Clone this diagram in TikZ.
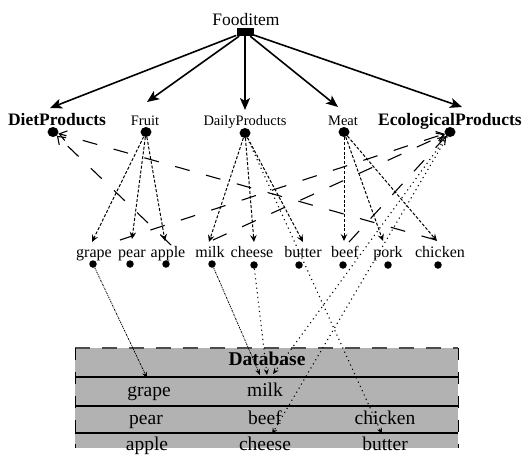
\documentclass[tikz,border=0pt]{standalone}
\usepackage{fontspec}
\setmainfont{Liberation Serif}
\usetikzlibrary{arrows.meta,shapes.geometric}
\begin{document}
\begin{tikzpicture}[x=1pt,y=-1pt,
  toplbl/.style={anchor=base,inner sep=0pt,font=\fontsize{17.5}{19}\selectfont},
  catlbl/.style={anchor=base,inner sep=0pt,font=\fontsize{14.5}{16}\selectfont},
  boldlbl/.style={anchor=base,inner sep=0pt,font=\fontsize{17.5}{19}\selectfont\bfseries},
  leaflbl/.style={anchor=base,inner sep=0pt,font=\fontsize{16}{18}\selectfont},
  dblbl/.style={anchor=base,inner sep=0pt,font=\fontsize{19.5}{21}\selectfont},
  catdot/.style={ellipse,fill=black,minimum width=11pt,minimum height=10pt,inner sep=0pt},
  leafdot/.style={circle,fill=black,minimum size=7.5pt,inner sep=0pt},
  topar/.style={line width=1.6pt,-{Stealth[length=12pt,width=10pt,inset=3pt]}},
  sdash/.style={line width=1pt,dash pattern=on 3pt off 1.8pt,-{Stealth[length=7pt,width=6.5pt,inset=2.5pt]}},
  ldash/.style={line width=1.1pt,dash pattern=on 15pt off 17pt,-{Straight Barb[length=7pt,width=10pt]}},
  dotl/.style={line width=1.1pt,dash pattern=on 1.1pt off 3.6pt,-{Stealth[length=6pt,width=5pt,inset=2pt]}},
  ddotl/.style={line width=0.8pt,dash pattern=on 1.8pt off 1pt on 0.8pt off 1pt,-{Stealth[length=6pt,width=5pt,inset=2pt]}}
]
\useasboundingbox (0,0) rectangle (529,459);

% Database table
\fill[black!30] (75,348) rectangle (458,448);
\draw[line width=1.4pt,black!70,dash pattern=on 15pt off 12pt] (75,348) -- (458,348);
\draw[line width=0.8pt,dash pattern=on 12pt off 12pt] (75,348) -- (75,448);
\draw[line width=0.8pt,dash pattern=on 12pt off 12pt] (458,348) -- (458,448);
\draw[line width=1.2pt] (75,377) -- (458,377);
\draw[line width=1.2pt] (75,406) -- (458,406);
\draw[line width=1.2pt] (75,433) -- (458,433);
\node[dblbl,font=\fontsize{19.5}{21}\selectfont\bfseries] (dbtitle) at (267,365) {Database};
\node[dblbl] (dbgrape) at (149,396) {grape};
\node[dblbl] (dbmilk) at (265,396) {milk};
\node[dblbl] (dbpear) at (146,424) {pear};
\node[dblbl] (dbbeef) at (265,424) {beef};
\node[dblbl] (dbchicken) at (385,424) {chicken};
\node[dblbl] (dbapple) at (147,450) {apple};
\node[dblbl] (dbcheese) at (265,450) {cheese};
\node[dblbl] (dbbutter) at (385,450) {butter};

% top
\node[toplbl] (food) at (246,25) {Fooditem};
\node[fill=black,minimum width=17pt,minimum height=8pt,inner sep=0pt] (root) at (245,32) {};

% categories
\node[boldlbl] (diet) at (57,125) {DietProducts};
\node[catlbl] (fruit) at (145,125) {Fruit};
\node[catlbl] (daily) at (245,125) {DailyProducts};
\node[catlbl] (meat) at (343,125) {Meat};
\node[boldlbl] (eco) at (450,125) {EcologicalProducts};
\node[catdot] (dDiet) at (53,132) {};
\node[catdot] (dFruit) at (146,132) {};
\node[catdot] (dDaily) at (245,133) {};
\node[catdot] (dMeat) at (344,132) {};
\node[catdot] (dEco) at (450,132) {};

\coordinate (tDiet) at (50,108);
\coordinate (tFruit) at (147,102);
\coordinate (tDaily) at (245,110);
\coordinate (tMeat) at (338,107);
\coordinate (tEco) at (462,107);
\draw[topar] (root) -- (tDiet);
\draw[topar] (root) -- (tFruit);
\draw[topar] (root) -- (tDaily);
\draw[topar] (root) -- (tMeat);
\draw[topar] (root) -- (tEco);

% leaves
\node[leaflbl] (grape) at (94,257) {grape};
\node[leaflbl] (pear) at (132,257) {pear};
\node[leaflbl] (apple) at (168,257) {apple};
\node[leaflbl] (milk) at (210,257) {milk};
\node[leaflbl] (cheese) at (252,257) {cheese};
\node[leaflbl] (butter) at (303,257) {butter};
\node[leaflbl] (beef) at (345,257) {beef};
\node[leaflbl] (pork) at (388,257) {pork};
\node[leaflbl] (chicken) at (440,257) {chicken};
\node[leafdot] (lgrape) at (93,264) {};
\node[leafdot] (lpear) at (130,264) {};
\node[leafdot] (lapple) at (166,264) {};
\node[leafdot] (lmilk) at (212,264) {};
\node[leafdot] (lcheese) at (254,265) {};
\node[leafdot] (lbutter) at (299,265) {};
\node[leafdot] (lbeef) at (343,265) {};
\node[leafdot] (lpork) at (388,265) {};
\node[leafdot] (lchicken) at (438,265) {};

% tips above leaves
\coordinate (tGrape) at (92,242);
\coordinate (tPear) at (132,239);
\coordinate (tApple) at (165,241);
\coordinate (tMilk) at (209,242);
\coordinate (tCheese) at (254,242);
\coordinate (tButter) at (303,242);
\coordinate (tBeef) at (344,241);
\coordinate (tPork) at (383,241);
\coordinate (tChicken) at (437,241);

\draw[sdash] (dFruit) -- (tGrape);
\draw[sdash] (dFruit) -- (tPear);
\draw[sdash] (dFruit) -- (tApple);
\draw[sdash] (dDaily) -- (tMilk);
\draw[sdash] (dDaily) -- (tCheese);
\draw[sdash] (dDaily) -- (tButter);
\draw[sdash] (dMeat) -- (tBeef);
\draw[sdash] (dMeat) -- (tPork);
\draw[sdash] (dMeat) -- (tChicken);

% long dashed relations
\coordinate (sChicken) at (436,240);
\coordinate (sApple) at (171,245);
\coordinate (sPear) at (120,240);
\coordinate (sMilk) at (213,240);
\coordinate (sBeef) at (349,242);
\draw[ldash] (sChicken) -- (dDiet);
\draw[ldash] (sApple) -- (dDiet);
\draw[ldash] (sPear) -- (dEco);
\draw[ldash] (sMilk) -- (dEco);
\draw[ldash] (sBeef) -- (dEco);

% mapping to database
\coordinate (aGrape) at (147,378);
\coordinate (aMilk1) at (260,375);
\coordinate (aMilk2) at (267,375);
\coordinate (aMilk3) at (273,374);
\coordinate (aCheese) at (272,434);
\coordinate (aButter) at (382,434);
\draw[ddotl] (lgrape) -- (aGrape);
\draw[ddotl] (lmilk) -- (aMilk1);
\draw[dotl] (lcheese) -- (aMilk2);
\draw[dotl] (dEco) -- (aMilk3);
\draw[dotl] (dEco) -- (aCheese);
\draw[dotl] (dDaily) -- (aButter);
\end{tikzpicture}
\end{document}
